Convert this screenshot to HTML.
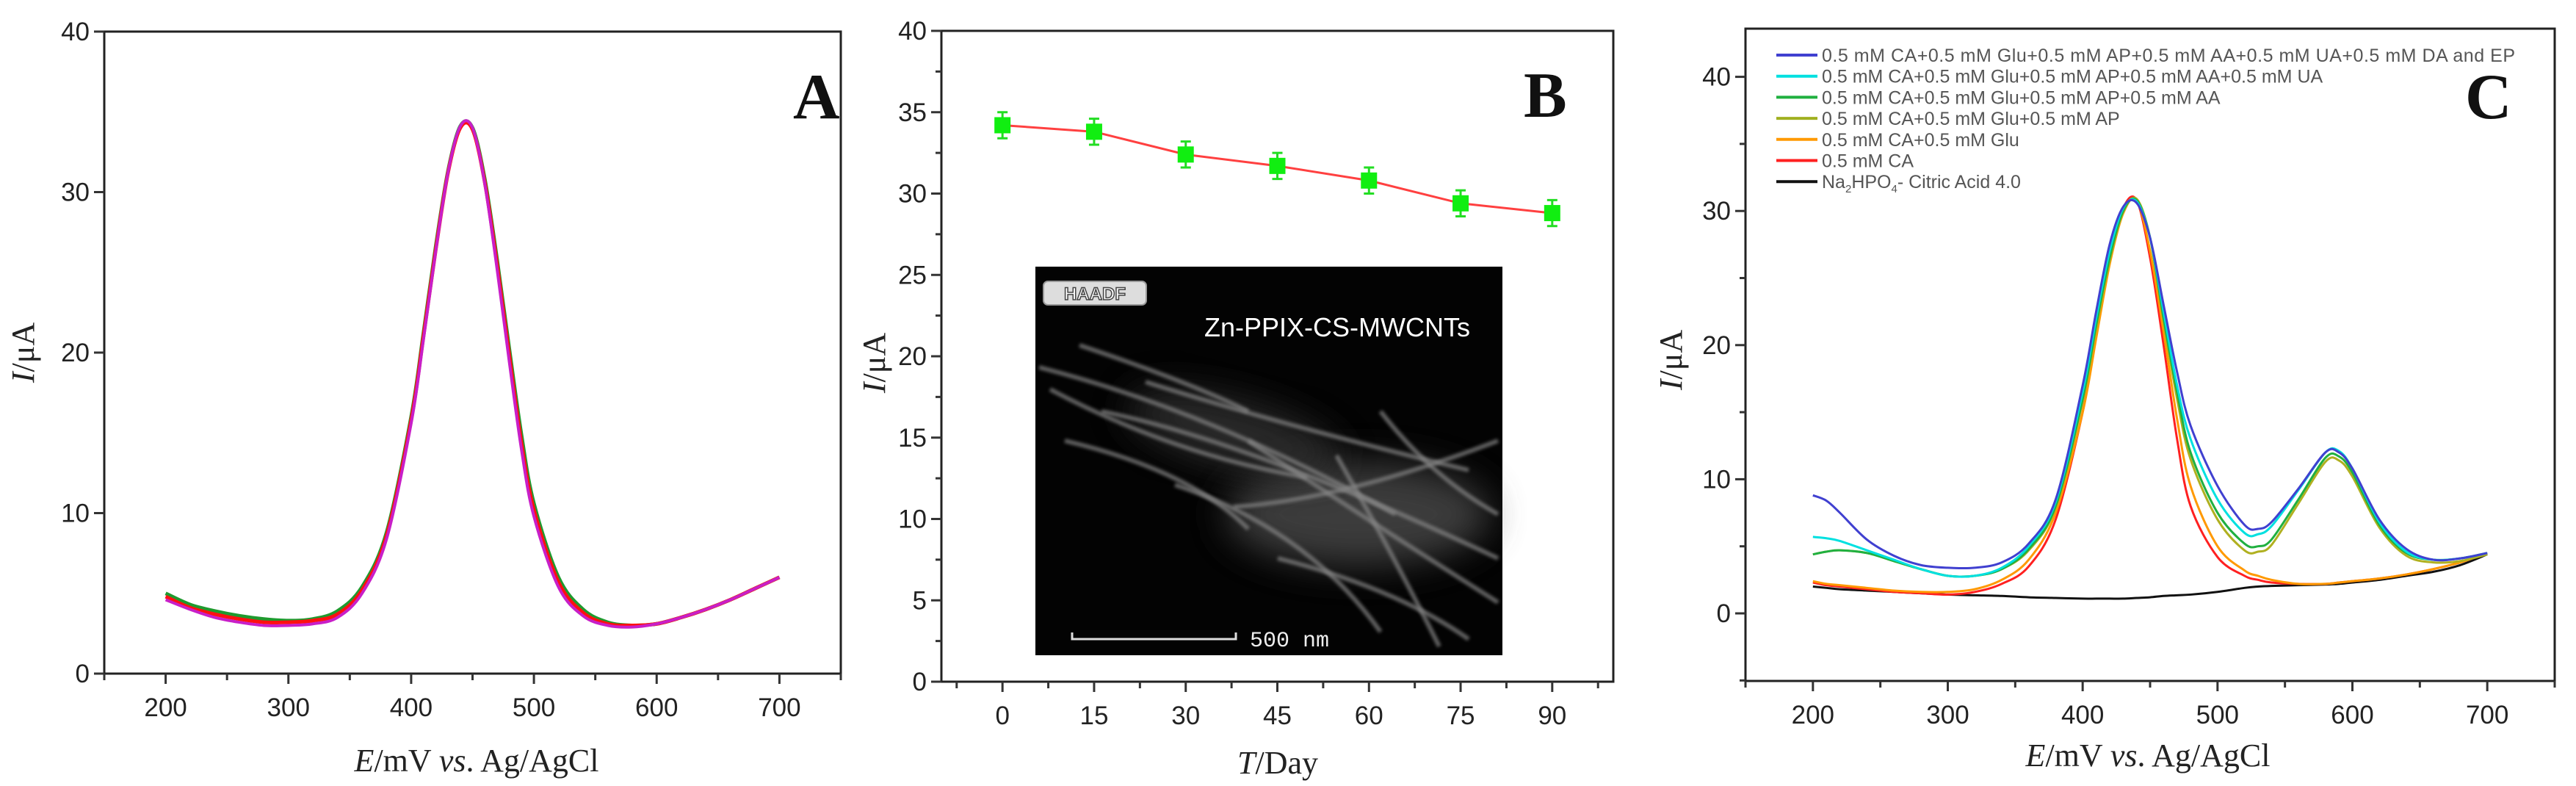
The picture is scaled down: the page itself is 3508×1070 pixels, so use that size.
<!DOCTYPE html>
<html><head><meta charset="utf-8">
<style>
html,body{margin:0;padding:0;background:#fff;}
svg{display:block;}
.tk{font-family:"Liberation Sans",Arial,sans-serif;font-size:35px;fill:#222;}
.ttl{font-family:"Liberation Serif","Times New Roman",serif;font-size:44px;fill:#222;}
.lg{font-family:"Liberation Sans",Arial,sans-serif;font-size:25px;fill:#555;}
.pl{font-family:"Liberation Serif",serif;font-size:88px;font-weight:bold;fill:#111;}
</style></head>
<body>
<svg id="fig" width="3508" height="1070" viewBox="0 0 3508 1070" xmlns="http://www.w3.org/2000/svg">
<rect width="3508" height="1070" fill="#fff"/>
<g id="gA"></g>
<g id="gB"></g>
<g id="gC"></g>
</svg>
<script>
// ---- Panel A data ----
const aX = [200,220,240,260,280,300,320,340,360,380,400,410,420,430,440,450,460,470,480,490,500,520,540,560,580,600,620,640,660,680,700];
const aGreen = [5.0,4.3,3.9,3.6,3.4,3.3,3.4,3.9,5.4,8.8,16.0,21.2,26.6,31.3,34.1,34.0,30.8,25.8,20.2,14.8,10.6,6.0,4.0,3.2,3.0,3.1,3.5,4.0,4.6,5.3,6.0];
const aRed = [4.8,4.1,3.7,3.4,3.2,3.2,3.3,3.7,5.2,8.6,15.8,21.0,26.4,31.2,34.0,33.9,30.6,25.5,19.8,14.3,10.2,5.7,3.8,3.1,3.0,3.1,3.5,4.0,4.6,5.3,6.0];
const aMag = [4.6,4.0,3.5,3.2,3.0,3.0,3.1,3.5,5.0,8.4,15.6,20.8,26.3,31.2,34.1,34.0,30.5,25.2,19.4,13.9,9.8,5.4,3.6,3.0,2.9,3.1,3.5,4.0,4.6,5.3,6.0];
const aXTicks = [200,300,400,500,600,700];
const aYTicks = [0,10,20,30,40];
// ---- Panel B data ----
const bDays = [0,15,30,45,60,75,90];
const bCurrent = [34.2,33.8,32.4,31.7,30.8,29.4,28.8];
const bErr = [0.8,0.8,0.8,0.8,0.8,0.8,0.8];
const bXTicks = [0,15,30,45,60,75,90];
const bYTicks = [0,5,10,15,20,25,30,35,40];
// ---- Panel C data ----
const cX = [200,210,220,240,260,280,300,320,340,360,380,400,410,420,430,440,450,460,470,480,500,520,530,540,560,580,590,600,620,640,660,680,700];
const cBlue = [8.8,8.4,7.5,5.5,4.3,3.6,3.4,3.4,3.8,5.2,8.5,17.0,22.5,27.5,30.3,30.6,28.0,23.0,18.0,14.0,9.5,6.6,6.3,6.8,9.3,12.0,12.0,10.8,7.0,4.8,4.0,4.1,4.5];
const cCyan = [5.7,5.6,5.4,4.7,4.0,3.3,2.8,2.8,3.4,5.0,8.3,16.5,22.0,27.0,30.2,30.7,28.0,22.5,17.0,13.0,8.5,6.0,5.9,6.5,9.2,12.0,12.1,10.8,6.8,4.6,4.0,4.1,4.5];
const cGreen = [4.4,4.6,4.7,4.5,3.9,3.3,2.8,2.8,3.3,4.8,8.0,16.0,21.5,26.5,30.0,30.8,28.0,22.0,16.5,12.0,7.5,5.2,5.0,5.5,8.5,11.6,11.7,10.5,6.6,4.5,4.0,4.1,4.5];
const cOlive = [4.4,4.6,4.7,4.5,3.9,3.3,2.8,2.8,3.3,4.7,7.9,15.8,21.2,26.3,29.9,30.9,28.0,21.8,16.0,11.5,7.0,4.7,4.6,5.1,8.2,11.3,11.4,10.2,6.4,4.3,3.8,3.9,4.4];
const cOrange = [2.4,2.2,2.1,1.9,1.7,1.6,1.6,1.8,2.5,4.0,7.5,15.0,20.5,26.0,29.8,30.8,27.0,21.0,14.5,9.5,5.0,3.2,2.8,2.5,2.2,2.2,2.3,2.4,2.6,2.9,3.3,3.8,4.5];
const cRed = [2.3,2.1,2.0,1.8,1.6,1.5,1.4,1.6,2.2,3.5,7.0,15.0,20.8,26.5,30.2,30.8,26.5,20.0,13.0,8.0,4.2,2.8,2.5,2.3,2.2,2.2,2.3,2.4,2.6,2.9,3.3,3.8,4.5];
const cBlack = [2.0,1.9,1.8,1.7,1.6,1.5,1.4,1.35,1.3,1.2,1.15,1.1,1.1,1.1,1.1,1.15,1.2,1.3,1.35,1.4,1.6,1.9,2.0,2.05,2.1,2.15,2.2,2.3,2.5,2.8,3.1,3.6,4.4];
const cXTicks = [200,300,400,500,600,700];
const cYTicks = [0,10,20,30,40];
const cLegend = ["0.5 mM CA+0.5 mM Glu+0.5 mM AP+0.5 mM AA+0.5 mM UA+0.5 mM DA and EP","0.5 mM CA+0.5 mM Glu+0.5 mM AP+0.5 mM AA+0.5 mM UA","0.5 mM CA+0.5 mM Glu+0.5 mM AP+0.5 mM AA","0.5 mM CA+0.5 mM Glu+0.5 mM AP","0.5 mM CA+0.5 mM Glu","0.5 mM CA","Na2HPO4- Citric Acid 4.0"];

const NS="http://www.w3.org/2000/svg";
function mk(parent,tag,attrs,text){const e=document.createElementNS(NS,tag);for(const k in attrs)e.setAttribute(k,attrs[k]);if(text!==undefined)e.textContent=text;parent.appendChild(e);return e;}
function lin(d0,d1,r0,r1){return v=>r0+(v-d0)*(r1-r0)/(d1-d0);}
function smooth(pts){let d="M"+pts[0][0]+","+pts[0][1];for(let i=0;i<pts.length-1;i++){const p0=pts[Math.max(0,i-1)],p1=pts[i],p2=pts[i+1],p3=pts[Math.min(pts.length-1,i+2)];const c1x=p1[0]+(p2[0]-p0[0])/6,c1y=p1[1]+(p2[1]-p0[1])/6,c2x=p2[0]-(p3[0]-p1[0])/6,c2y=p2[1]-(p3[1]-p1[1])/6;d+=" C"+c1x+","+c1y+" "+c2x+","+c2y+" "+p2[0]+","+p2[1];}return d;}

function frame(g,L,R,T,B,sx,sy,xMaj,xMin,yMaj,yMin,nameP){
  const fr=mk(g,"rect",{x:L,y:T,width:R-L,height:B-T,fill:"none",stroke:"#222","stroke-width":3});
  
  
  xMin.forEach(v=>{const l=mk(g,"line",{x1:sx(v),x2:sx(v),y1:B,y2:B+9,stroke:"#333","stroke-width":3});
    
    });
  xMaj.forEach(v=>{const l=mk(g,"line",{x1:sx(v),x2:sx(v),y1:B,y2:B+14,stroke:"#333","stroke-width":3});
    
    
    const t=mk(g,"text",{x:sx(v),y:B+58,"text-anchor":"middle",class:"tk"},String(v));
    
    });
  yMin.forEach(v=>{const l=mk(g,"line",{x1:L-8,x2:L,y1:sy(v),y2:sy(v),stroke:"#333","stroke-width":3});
    
    });
  yMaj.forEach(v=>{const l=mk(g,"line",{x1:L-14,x2:L,y1:sy(v),y2:sy(v),stroke:"#333","stroke-width":3});
    
    
    const t=mk(g,"text",{x:L-20,y:sy(v)+12,"text-anchor":"end",class:"tk"},String(v));
    
    });
}
function ylabel(g,x,y,nameP){
  const t=mk(g,"text",{x:0,y:0,class:"ttl",transform:"translate("+x+","+y+") rotate(-90)","text-anchor":"middle"});
  
  
  mk(t,"tspan",{"font-style":"italic"},"I");mk(t,"tspan",{},"/μA");
}
function xlabelE(g,x,y,nameP){
  const t=mk(g,"text",{x:x,y:y,class:"ttl","text-anchor":"middle"});
  
  
  mk(t,"tspan",{"font-style":"italic"},"E");mk(t,"tspan",{},"/mV ");mk(t,"tspan",{"font-style":"italic"},"vs");mk(t,"tspan",{},". Ag/AgCl");
}
function series(g,xs,ys,sx,sy,color,w,name){
  const p=mk(g,"path",{d:smooth(xs.map((x,i)=>[sx(x),sy(ys[i])])),fill:"none",stroke:color,"stroke-width":w,"stroke-linejoin":"round"});
  
  
}

// ---- Panel A ----
(function(){
  const g=document.getElementById("gA");
  const L=142,R=1145,T=43,B=917;
  const sx=lin(150,750,L,R), sy=lin(0,40,B,T);
  const xMin=[150,250,350,450,550,650,750];
  frame(g,L,R,T,B,sx,sy,aXTicks,xMin,aYTicks,[],"panel-a");
  series(g,aX,aGreen,sx,sy,"#1f9a2e",5,"a-green-curve");
  series(g,aX,aRed,sx,sy,"#ff1010",5,"a-red-curve");
  series(g,aX,aMag,sx,sy,"#c81fc8",4,"a-magenta-curve");
  ylabel(g,46,480,"panel-a");
  xlabelE(g,649,1050,"panel-a");
  const pl=mk(g,"text",{x:1080,y:161,class:"pl"},"A");
  
  
})();

// ---- Panel B ----
(function(){
  const g=document.getElementById("gB");
  const L=1282,R=2197,T=42,B=928;
  const sx=lin(-10,100,L,R), sy=lin(0,40,B,T);
  const xMin=[-7.5,7.5,22.5,37.5,52.5,67.5,82.5,97.5];
  const yMin=[2.5,7.5,12.5,17.5,22.5,27.5,32.5,37.5];
  frame(g,L,R,T,B,sx,sy,bXTicks,xMin,bYTicks,yMin,"panel-b");
  const ins=mk(g,"g",{});
  
  
  mk(ins,"defs",{}).innerHTML='<filter id="bl" x="-50%" y="-50%" width="200%" height="200%"><feGaussianBlur stdDeviation="25"/></filter><filter id="bl2"><feGaussianBlur stdDeviation="2"/></filter>';
  mk(ins,"rect",{x:1410,y:363,width:636,height:529,fill:"#030303"});
  mk(ins,"ellipse",{cx:1850,cy:700,rx:180,ry:70,fill:"#555",filter:"url(#bl)",opacity:0.7});
  mk(ins,"ellipse",{cx:1680,cy:590,rx:150,ry:45,fill:"#3a3a3a",filter:"url(#bl)",opacity:0.7,transform:"rotate(15 1680 590)"});
  const strands=[[1415,500,1650,560,1900,700],[1430,530,1600,620,1780,650],[1500,560,1700,600,2040,760],[1560,520,1750,580,2000,640],[1450,600,1620,640,1700,720],[1700,600,1850,700,2040,820],[1820,620,1900,760,1960,880],[1600,660,1780,720,1880,860],[1680,690,1830,680,2040,600],[1470,470,1620,520,1700,560],[1880,560,1950,650,2040,700],[1740,760,1900,800,2000,870]];
  strands.forEach(s=>mk(ins,"path",{d:"M"+s[0]+","+s[1]+" Q"+s[2]+","+s[3]+" "+s[4]+","+s[5],fill:"none",stroke:"#888","stroke-width":6,opacity:0.7,filter:"url(#bl2)"}));
  mk(ins,"rect",{x:1421,y:383,width:140,height:32,rx:6,fill:"#ddd",stroke:"#999","stroke-width":2});
  const ht=mk(ins,"text",{x:1491,y:408,"text-anchor":"middle","font-family":"Liberation Sans, sans-serif","font-size":24,"font-weight":"bold",fill:"#fff",stroke:"#444","stroke-width":1.5},"HAADF");
  
  
  const nt=mk(ins,"text",{x:1640,y:458,"font-family":"Liberation Sans, sans-serif","font-size":36,fill:"#fff"},"Zn-PPIX-CS-MWCNTs");
  
  
  mk(ins,"path",{d:"M1460,861 V870 H1683 V861",fill:"none",stroke:"#ddd","stroke-width":3});
  const sb=mk(ins,"text",{x:1702,y:880,"font-family":"Liberation Mono, monospace","font-size":30,fill:"#eee"},"500 nm");
  
  
  const ln=mk(g,"polyline",{points:bDays.map((d,i)=>sx(d)+","+sy(bCurrent[i])).join(" "),fill:"none",stroke:"#ff4040","stroke-width":3});
  
  
  bDays.forEach((d,i)=>{
    const x=sx(d),y=sy(bCurrent[i]),e1=sy(bCurrent[i]+bErr[i]),e0=sy(bCurrent[i]-bErr[i]);
    const eb=mk(g,"path",{d:"M"+x+","+e1+" V"+e0+" M"+(x-7)+","+e1+" H"+(x+7)+" M"+(x-7)+","+e0+" H"+(x+7),stroke:"#22dd22","stroke-width":3,fill:"none"});
    
    
    const pt=mk(g,"rect",{x:x-11,y:y-11,width:22,height:22,fill:"#11ee11"});
    
    
  });
  ylabel(g,1205,494,"panel-b");
  const xt=mk(g,"text",{x:1740,y:1053,class:"ttl","text-anchor":"middle"});
  
  
  mk(xt,"tspan",{"font-style":"italic"},"T");mk(xt,"tspan",{},"/Day");
  const pl=mk(g,"text",{x:2075,y:159,class:"pl"},"B");
  
  
})();

// ---- Panel C ----
(function(){
  const g=document.getElementById("gC");
  const L=2377,R=3479,T=39,B=927;
  const sx=lin(150,750,L,R), sy=lin(0,10,835,652.4);
  const xMin=[150,250,350,450,550,650,750];
  const yMin=[-5,5,15,25,35];
  frame(g,L,R,T,B,sx,sy,cXTicks,xMin,cYTicks,yMin,"panel-c");
  const cols=["#4040d0","#00e0e0","#20b040","#a0b020","#ff9900","#ff2020","#111111"];
  const sers=[cBlack,cRed,cOrange,cOlive,cGreen,cCyan,cBlue];
  const scol=["#111111","#ff2020","#ff9900","#b0b020","#20b040","#00e0e0","#4040d0"];
  const snm=["c-buffer-curve","c-ca-curve","c-ca-glu-curve","c-ap-curve","c-aa-curve","c-ua-curve","c-all-curve"];
  sers.forEach((s,i)=>series(g,cX,s,sx,sy,scol[i],3,snm[i]));
  cLegend.forEach((txt,i)=>{
    const y=75+i*28.7;
    const l=mk(g,"line",{x1:2419,x2:2475,y1:y,y2:y,stroke:cols[i],"stroke-width":4});
    
    
    const t=mk(g,"text",{x:2481,y:y+9,class:"lg"});
    
    
    if(i===6){mk(t,"tspan",{},"Na");mk(t,"tspan",{"font-size":15,dy:6},"2");mk(t,"tspan",{dy:-6},"HPO");mk(t,"tspan",{"font-size":15,dy:6},"4");mk(t,"tspan",{dy:-6},"- Citric Acid 4.0");}
    else{t.textContent=txt; if(i===0)t.setAttribute("textLength",944);}
  });
  ylabel(g,2290,490,"panel-c");
  xlabelE(g,2925,1043,"panel-c");
  const pl=mk(g,"text",{x:3357,y:161,class:"pl"},"C");
  
  
})();
</script>
</body></html>
